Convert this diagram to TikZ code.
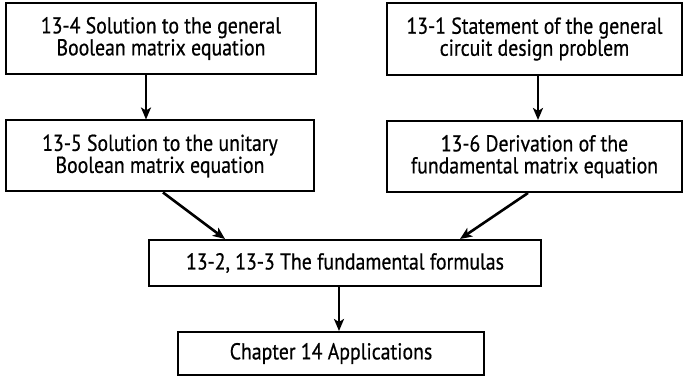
\documentclass[tikz,border=0pt]{standalone}
\usepackage{fontspec}
\setmainfont{PT Sans}[FakeStretch=0.86,FakeBold=0.6]
\usetikzlibrary{arrows.meta}
\tikzset{
    topic_box/.style = {
        draw=black,
        line width=1pt,
        align=center,
        inner sep=0pt,
        font=\fontsize{11.5}{11}\selectfont
    },
    flow_line/.style = {
        draw=black,
        line width=1.3pt,
        -{Stealth[length=6pt,width=5pt,inset=1.5pt]}
    },
}
\begin{document}
\begin{tikzpicture}[x=0.5pt,y=-0.5pt]
    \useasboundingbox (0,0) rectangle (685,378);

    \node[topic_box, minimum width=155pt, minimum height=35.5pt] (general) at (161,38.5)
        {13-4 Solution to the general\\Boolean matrix equation};
    \node[topic_box, minimum width=154pt, minimum height=35.5pt] (unitary) at (160,156)
        {13-5 Solution to the unitary\\Boolean matrix equation};
    \node[topic_box, minimum width=147.5pt, minimum height=36pt] (statement) at (534.5,39)
        {13-1 Statement of the general\\circuit design problem};
    \node[topic_box, minimum width=147.5pt, minimum height=35.5pt] (derivation) at (534.5,156.5)
        {13-6 Derivation of the\\fundamental matrix equation};
    \node[topic_box, minimum width=196pt, minimum height=23pt] (formulas) at (345,263)
        {13-2, 13-3 The fundamental formulas};
    \node[topic_box, minimum width=153pt, minimum height=21.5pt] (applications) at (331,353.5)
        {Chapter 14 Applications};

    \draw[flow_line] ([xshift=-7.5pt]general.south) -- ([xshift=-7pt]unitary.north);
    \draw[flow_line] ([xshift=1.75pt]statement.south) -- ([xshift=1.75pt]derivation.north);
    \draw[flow_line] ([xshift=1.5pt]unitary.south) -- ([xshift=-60pt]formulas.north);
    \draw[flow_line] ([xshift=-3.25pt]derivation.south) -- ([xshift=57.5pt]formulas.north);
    \coordinate (formulas_out) at ([xshift=-3pt]formulas.south);
    \draw[flow_line] (formulas_out) -- (formulas_out |- applications.north);
\end{tikzpicture}
\end{document}
